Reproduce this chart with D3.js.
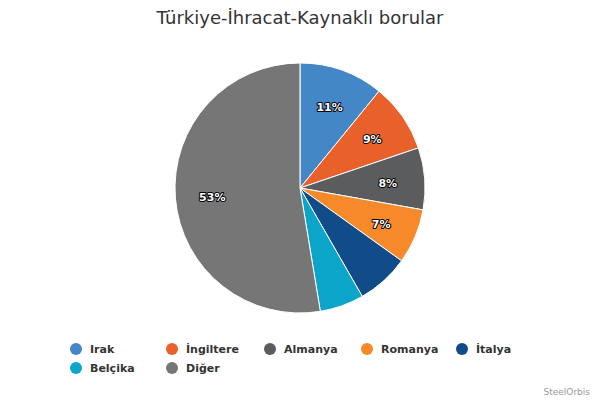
<!DOCTYPE html>
<html><head><meta charset="utf-8">
<script src="https://cdn.jsdelivr.net/npm/d3@7"></script>
<style>
html,body{margin:0;padding:0;background:#fff;}
svg{display:block;font-family:"DejaVu Sans",sans-serif;}
</style></head>
<body><svg id="c" width="600" height="400"></svg>
<script>
const categories = ["Irak","İngiltere","Almanya","Romanya","İtalya","Belçika","Diğer"];
const values = [10.9, 8.9, 8.0, 7.1, 6.8, 5.7, 52.6];
const colors = ["#4387c6","#e8602a","#5b5c5e","#f6892a","#124b8a","#0ba5c9","#767677"];
const title = "Türkiye-İhracat-Kaynaklı borular";
const credit = "SteelOrbis";
const labelMin = 7;

const svg = d3.select("#c");
svg.append("rect").attr("width",600).attr("height",400).attr("fill","#fff");
svg.append("text").attr("x",300).attr("y",24).attr("text-anchor","middle")
  .attr("font-size",18).attr("fill","#333").text(title);

const cx=300, cy=188, r=125;
const data = categories.map((c,i)=>({name:c,value:values[i],color:colors[i]}));
const pie = d3.pie().value(d=>d.value).sort(null);
const arc = d3.arc().innerRadius(0).outerRadius(r);
const labelArc = d3.arc().innerRadius(88).outerRadius(88);
const g = svg.append("g").attr("transform",`translate(${cx},${cy})`);
const arcs = pie(data);
g.selectAll("path").data(arcs).join("path")
  .attr("d",arc).attr("fill",d=>d.data.color).attr("stroke","#fff").attr("stroke-width",1);
g.selectAll("text.l").data(arcs.filter(d=>d.data.value>=labelMin)).join("text")
  .attr("class","l")
  .attr("transform",d=>{const p=labelArc.centroid(d);return `translate(${p[0]},${p[1]+2})`;})
  .attr("text-anchor","middle").attr("dominant-baseline","central")
  .attr("font-size",11).attr("font-weight","bold")
  .attr("fill","#fff").attr("stroke","#000").attr("stroke-width",2)
  .attr("stroke-linejoin","round").attr("paint-order","stroke")
  .text(d=>Math.round(d.data.value)+"%");

// legend
const leg = svg.append("g");
const colX = [76,172,270,367,462];
const rowY = [349,368];
data.forEach((d,i)=>{
  const x = colX[i%5], y = rowY[Math.floor(i/5)];
  leg.append("circle").attr("cx",x).attr("cy",y).attr("r",6).attr("fill",d.color);
  leg.append("text").attr("x",x+14).attr("y",y).attr("dominant-baseline","central")
    .attr("font-size",11).attr("font-weight","bold").attr("fill","#333").text(d.name);
});
svg.append("text").attr("x",590).attr("y",395).attr("text-anchor","end")
  .attr("font-size",9).attr("fill","#999").text(credit);
</script></body></html>
